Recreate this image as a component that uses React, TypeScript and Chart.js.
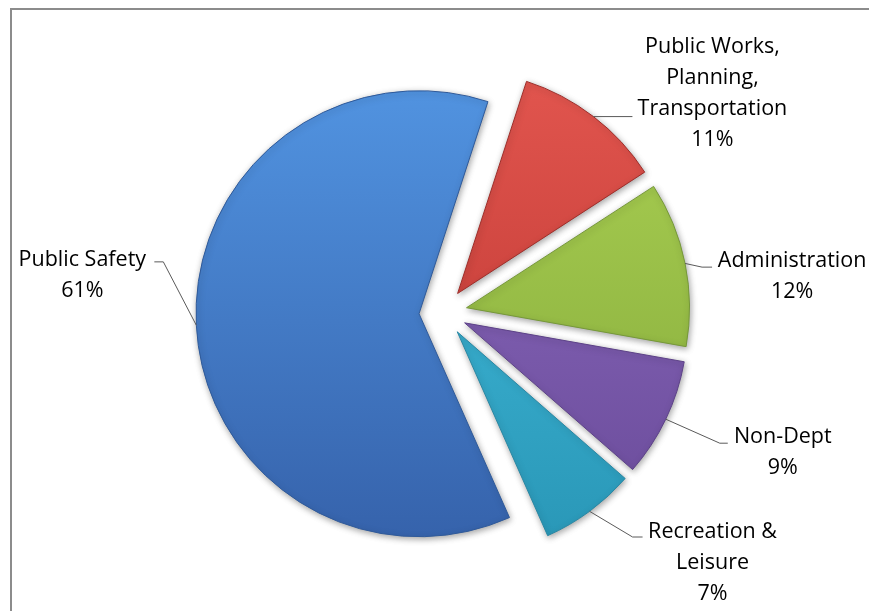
import React, { useEffect, useRef } from "react";
import { Chart, registerables } from "chart.js";

Chart.register(...registerables);

// ---- data ----
const categories = [
  "Public Works, Planning, Transportation",
  "Administration",
  "Non-Dept",
  "Recreation & Leisure",
  "Public Safety",
];
const labelLines = [
  ["Public Works,", "Planning,", "Transportation"],
  ["Administration"],
  ["Non-Dept"],
  ["Recreation &", "Leisure"],
  ["Public Safety"],
];
const shares = [10.8, 11.9, 8.6, 6.9, 61.4];

// ---- styles ----
const topColors = ["#e0544d", "#a9cf52", "#8d6cc0", "#45c0e0", "#5193e0"];
const bottomColors = ["#b8332e", "#84a93a", "#6a4b9a", "#2a98b8", "#3663ac"];
const edgeColors = ["#9e2e2a", "#76983a", "#5d4288", "#2a88a4", "#2f5a9a"];
const EXPLODE = 24;
const RADIUS = 223;
const FONT = "21.5px 'Open Sans'";
const LINE_H = 31;
// label layout relative to the leader anchor on each slice edge
const labelLayout = [
  { leader: [[39, 0]], text: [119, -69.6] },
  { leader: [[17, 3.7], [27, 3.7]], text: [107, -2.3] },
  { leader: [[54, 24], [62, 24]], text: [117, 18] },
  { leader: [[43, 25.7], [53, 25.7]], text: [123, 20.7] },
  { leader: [[-33, -63.4], [-42, -63.4]], text: [-114, -65.4] },
];

const framePlugin = {
  id: "frame",
  beforeDraw(chart: any) {
    const ctx = chart.ctx;
    ctx.save();
    ctx.fillStyle = "#ffffff";
    ctx.fillRect(0, 0, chart.width, chart.height);
    ctx.strokeStyle = "#8c8c8c";
    ctx.lineWidth = 2;
    ctx.beginPath();
    ctx.moveTo(11, chart.height);
    ctx.lineTo(11, 9);
    ctx.lineTo(chart.width, 9);
    ctx.stroke();
    ctx.restore();
  },
};

const explodePlugin = {
  id: "explode",
  beforeDatasetsDraw(chart: any) {
    const meta = chart.getDatasetMeta(0);
    meta.data.forEach((arc: any) => {
      const mid = (arc.startAngle + arc.endAngle) / 2;
      arc._cx = arc.x;
      arc._cy = arc.y;
      arc.x = arc._cx + Math.cos(mid) * EXPLODE;
      arc.y = arc._cy + Math.sin(mid) * EXPLODE;
    });
    const ctx = chart.ctx;
    ctx.save();
    ctx.shadowColor = "rgba(0,0,0,0.35)";
    ctx.shadowBlur = 6;
    ctx.shadowOffsetX = 1;
    ctx.shadowOffsetY = 2;
  },
  afterDatasetsDraw(chart: any) {
    chart.ctx.restore();
    const meta = chart.getDatasetMeta(0);
    meta.data.forEach((arc: any) => {
      arc.x = arc._cx;
      arc.y = arc._cy;
    });
  },
};

const labelPlugin = {
  id: "sliceLabels",
  afterDraw(chart: any) {
    const ctx = chart.ctx;
    const meta = chart.getDatasetMeta(0);
    ctx.save();
    meta.data.forEach((arc: any, i: number) => {
      const mid = (arc.startAngle + arc.endAngle) / 2;
      const r = arc.outerRadius + EXPLODE;
      const ax = arc.x + Math.cos(mid) * r;
      const ay = arc.y + Math.sin(mid) * r;
      const lay = labelLayout[i];
      ctx.strokeStyle = "#5a5a5a";
      ctx.lineWidth = 1;
      ctx.beginPath();
      ctx.moveTo(ax, ay);
      lay.leader.forEach((p) => ctx.lineTo(ax + p[0], ay + p[1]));
      ctx.stroke();
      const lines = [...labelLines[i], Math.round(shares[i]) + "%"];
      ctx.font = FONT;
      ctx.fillStyle = "#000000";
      ctx.textAlign = "center";
      ctx.textBaseline = "middle";
      const tx = ax + lay.text[0];
      const ty = ay + lay.text[1];
      lines.forEach((s, k) => ctx.fillText(s, tx, ty + k * LINE_H));
    });
    ctx.restore();
  },
};

export default function App() {
  const ref = useRef<HTMLCanvasElement | null>(null);
  useEffect(() => {
    document.body.style.margin = "0";
    const canvas = ref.current!;
    const chart = new Chart(canvas, {
      type: "pie",
      data: {
        labels: categories,
        datasets: [
          {
            data: shares,
            backgroundColor: (c: any) => {
              const ch = c.chart;
              const area = ch.chartArea;
              const i = c.dataIndex;
              if (!area || i === undefined) return topColors[i || 0];
              const cy = (area.top + area.bottom) / 2;
              const g = ch.ctx.createLinearGradient(0, cy - RADIUS, 0, cy + RADIUS);
              g.addColorStop(0, topColors[i]);
              g.addColorStop(1, bottomColors[i]);
              return g;
            },
            borderColor: edgeColors,
            borderWidth: 1,
          },
        ],
      },
      options: {
        animation: false,
        responsive: false,
        maintainAspectRatio: false,
        rotation: 18,
        radius: RADIUS,
        layout: { padding: { left: 17, right: 0, top: 14, bottom: 0 } },
        plugins: {
          legend: { display: false },
          tooltip: { enabled: false },
        },
        events: [],
      } as any,
      plugins: [framePlugin, explodePlugin, labelPlugin],
    });
    return () => chart.destroy();
  }, []);
  return (
    <div style={{ position: "absolute", left: 0, top: 0, width: 869, height: 611 }}>
      <canvas ref={ref} width={869} height={611} style={{ width: 869, height: 611, display: "block" }} />
    </div>
  );
}
